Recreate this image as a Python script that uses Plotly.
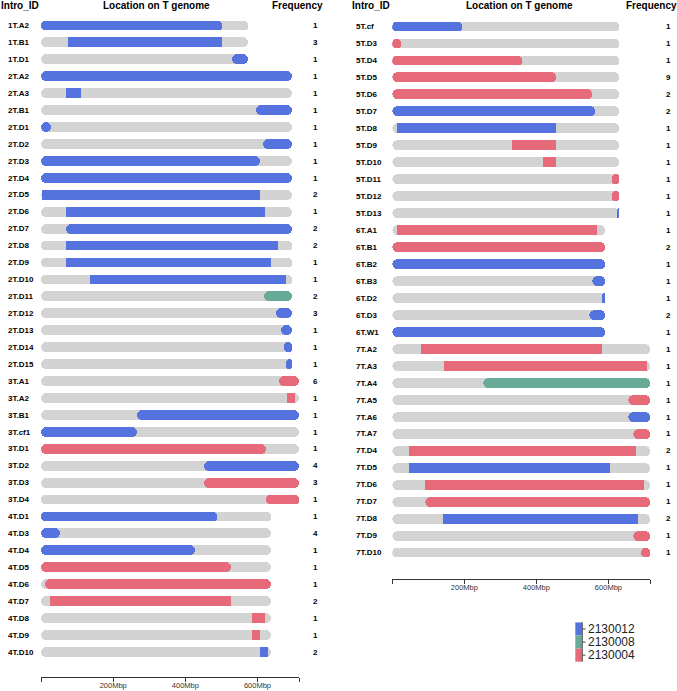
import plotly.graph_objects as go

W, H = 677, 691
FONT = "Liberation Sans, Arial, Helvetica, sans-serif"

# ---------------- data ----------------
chrom_len = {"1T": 574, "2T": 695, "3T": 716, "4T": 637, "5T": 631, "6T": 590, "7T": 716}

left_ids = ["1T.A2", "1T.B1", "1T.D1",
            "2T.A2", "2T.A3", "2T.B1", "2T.D1", "2T.D2", "2T.D3", "2T.D4", "2T.D5", "2T.D6",
            "2T.D7", "2T.D8", "2T.D9", "2T.D10", "2T.D11", "2T.D12", "2T.D13", "2T.D14", "2T.D15",
            "3T.A1", "3T.A2", "3T.B1", "3T.cf1", "3T.D1", "3T.D2", "3T.D3", "3T.D4",
            "4T.D1", "4T.D3", "4T.D4", "4T.D5", "4T.D6", "4T.D7", "4T.D8", "4T.D9", "4T.D10"]
left_start = [0, 76, 531,
              0, 69, 595, 0, 615, 0, 0, 4, 69,
              69, 69, 69, 135, 617, 653, 666, 673, 680,
              660, 682, 265, 0, 0, 451, 451, 625,
              0, 0, 0, 0, 10, 25, 585, 585, 606]
left_end = [502, 502, 574,
            695, 112, 695, 27, 695, 607, 695, 607, 622,
            695, 658, 637, 680, 695, 695, 695, 695, 695,
            716, 703, 716, 265, 625, 716, 716, 716,
            488, 53, 428, 528, 637, 528, 621, 606, 629]
left_donor = ["2130012", "2130012", "2130012",
              "2130012", "2130012", "2130012", "2130012", "2130012", "2130012", "2130012", "2130012", "2130012",
              "2130012", "2130012", "2130012", "2130012", "2130008", "2130012", "2130012", "2130012", "2130012",
              "2130004", "2130004", "2130012", "2130012", "2130004", "2130012", "2130004", "2130004",
              "2130012", "2130012", "2130012", "2130004", "2130004", "2130004", "2130004", "2130004", "2130012"]
left_freq = [1, 3, 1,
             1, 1, 1, 1, 1, 1, 1, 2, 1,
             2, 2, 1, 1, 2, 3, 1, 1, 1,
             6, 1, 1, 1, 1, 4, 3, 1,
             1, 4, 1, 1, 1, 2, 1, 1, 2]

right_ids = ["5T.cf", "5T.D3", "5T.D4", "5T.D5", "5T.D6", "5T.D7", "5T.D8", "5T.D9", "5T.D10",
             "5T.D11", "5T.D12", "5T.D13",
             "6T.A1", "6T.B1", "6T.B2", "6T.B3", "6T.D2", "6T.D3", "6T.W1",
             "7T.A2", "7T.A3", "7T.A4", "7T.A5", "7T.A6", "7T.A7",
             "7T.D4", "7T.D5", "7T.D6", "7T.D7", "7T.D8", "7T.D9", "7T.D10"]
right_start = [0, 0, 0, 0, 0, 0, 15, 333, 418, 612, 612, 626,
               15, 0, 0, 555, 583, 548, 0,
               80, 144, 253, 656, 656, 669,
               47, 47, 92, 92, 142, 669, 691]
right_end = [195, 24, 362, 455, 556, 563, 455, 455, 455, 631, 631, 631,
             570, 590, 590, 590, 590, 590, 590,
             584, 707, 716, 716, 716, 716,
             677, 605, 699, 716, 684, 716, 716]
right_donor = ["2130012", "2130004", "2130004", "2130004", "2130004", "2130012", "2130012", "2130004",
               "2130004", "2130004", "2130004", "2130012",
               "2130004", "2130004", "2130012", "2130012", "2130012", "2130012", "2130012",
               "2130004", "2130004", "2130008", "2130004", "2130012", "2130004",
               "2130004", "2130012", "2130004", "2130004", "2130012", "2130004", "2130004"]
right_freq = [1, 1, 1, 9, 2, 2, 1, 1, 1, 1, 1, 1,
              1, 2, 1, 1, 1, 2, 1,
              1, 1, 1, 1, 1, 1,
              2, 1, 1, 1, 2, 1, 1]

tick_vals = [0, 200, 400, 600, 716]
tick_text = ["", "200Mbp", "400Mbp", "600Mbp", ""]
legend_codes = ["2130012", "2130008", "2130004"]

# ---------------- styles ----------------
COLORS = {"2130012": "#5573DE", "2130008": "#67AA97", "2130004": "#E66A79"}
GRAY = "#D3D3D3"
XMAX = 716
BAR_W = 0.58
R = 5
AX = "#333333"


def px_x(p):
    return p / W


def px_y(p):
    return 1 - p / H


fig = go.Figure()


def bar(ys, base, x, colors, radius, xa, ya):
    return go.Bar(orientation="h", y=ys, base=base, x=x, width=BAR_W,
                  marker=dict(color=colors, cornerradius=radius, line=dict(width=0)),
                  xaxis=xa, yaxis=ya, showlegend=False, hoverinfo="skip")


def add_panel(ids, starts, ends, donors, xa, ya):
    n = len(ids)
    ys = list(range(n))
    L = [chrom_len[i[:2]] for i in ids]
    # gray chromosome pill (two overlapping halves, each rounded on its tip)
    fig.add_trace(bar(ys, [0.6 * l for l in L], [-0.6 * l for l in L], GRAY, R, xa, ya))
    fig.add_trace(bar(ys, [0.4 * l for l in L], [0.6 * l for l in L], GRAY, R, xa, ya))
    groups = {"lr": ([], [], [], []), "rr": ([], [], [], []), "sq": ([], [], [], [])}

    def put(g, k, b, x, c):
        groups[g][0].append(k)
        groups[g][1].append(b)
        groups[g][2].append(x)
        groups[g][3].append(c)

    for k in range(n):
        s, e, l, c = starts[k], ends[k], L[k], COLORS[donors[k]]
        at0 = s <= 0.5
        atL = e >= l - 0.5
        if at0 and atL:
            put("lr", k, 0.6 * l, -0.6 * l, c)
            put("rr", k, 0.4 * l, 0.6 * l, c)
        elif at0:
            put("lr", k, e, -e, c)
        elif atL:
            put("rr", k, s, l - s, c)
        else:
            put("sq", k, s, e - s, c)
    for g, rad in (("sq", 0), ("lr", R), ("rr", R)):
        yy, bb, xx, cc = groups[g]
        if yy:
            fig.add_trace(bar(yy, bb, xx, cc, rad, xa, ya))


add_panel(left_ids, left_start, left_end, left_donor, "x", "y")
add_panel(right_ids, right_start, right_end, right_donor, "x2", "y2")

annotations = []


def txt(x, y, text, size, yref="paper", xanchor="center", color="#000", bold=True):
    annotations.append(dict(x=x, y=y, xref="paper", yref=yref, text=("<b>%s</b>" % text) if bold else text,
                            showarrow=False, xanchor=xanchor, yanchor="middle", borderpad=0,
                            font=dict(family=FONT, size=size, color=color)))


for k, (i, f) in enumerate(zip(left_ids, left_freq)):
    txt(px_x(7), k, i, 8, yref="y", xanchor="left")
    txt(px_x(315), k, str(f), 8, yref="y")
for k, (i, f) in enumerate(zip(right_ids, right_freq)):
    txt(px_x(355), k, i, 8, yref="y2", xanchor="left")
    txt(px_x(668.3), k, str(f), 8, yref="y2")

# headers
txt(px_x(0), px_y(5.5), "Intro_ID", 10, xanchor="left")
txt(px_x(156.7), px_y(5.5), "Location on T genome", 10)
txt(px_x(297.5), px_y(5.5), "Frequency", 10)
txt(px_x(351), px_y(5.5), "Intro_ID", 10, xanchor="left")
txt(px_x(519.7), px_y(5.5), "Location on T genome", 10)
txt(px_x(651.8), px_y(5.5), "Frequency", 10)

# legend (color strip with axis-like ticks)
shapes = []
box_top = [622.4, 635.5, 648.6]
box_bot = [635.5, 648.6, 661.7]
for code, t, b in zip(legend_codes, box_top, box_bot):
    shapes.append(dict(type="rect", xref="paper", yref="paper", x0=px_x(575.3), x1=px_x(582.3),
                       y0=px_y(b), y1=px_y(t), fillcolor=COLORS[code], line=dict(width=0)))
    mid = (t + b) / 2
    shapes.append(dict(type="line", xref="paper", yref="paper", x0=px_x(582.3), x1=px_x(585.5),
                       y0=px_y(mid), y1=px_y(mid), line=dict(color="#444", width=1)))
    txt(px_x(586.5), px_y(mid), code, 12, xanchor="left", color="#222", bold=False)
shapes.append(dict(type="line", xref="paper", yref="paper", x0=px_x(582.3), x1=px_x(582.3),
                   y0=px_y(box_bot[-1]), y1=px_y(box_top[0]), line=dict(color="#555", width=1)))

xcommon = dict(range=[0, XMAX], showgrid=False, zeroline=False, showline=True, linecolor=AX, linewidth=1,
               ticks="outside", ticklen=4, tickcolor=AX, tickwidth=1, tickmode="array",
               tickvals=tick_vals, ticktext=tick_text, ticklabelstandoff=-3,
               tickfont=dict(family=FONT, size=7.5, color="#333"), fixedrange=True)

fig.update_layout(
    width=W, height=H, autosize=False,
    margin=dict(l=0, r=0, t=0, b=0),
    paper_bgcolor="white", plot_bgcolor="white",
    template="none",
    barmode="overlay", bargap=0,
    showlegend=False,
    xaxis=dict(domain=[px_x(41.1), px_x(299.3)], anchor="y", **xcommon),
    xaxis2=dict(domain=[px_x(392.3), px_x(650.2)], anchor="y2", **xcommon),
    yaxis=dict(domain=[px_y(676.7), px_y(17.2)], range=[(676.7 - 25.7) / 16.93, -0.5],
               visible=False, anchor="x", fixedrange=True),
    yaxis2=dict(domain=[px_y(579.0), px_y(18.2)], range=[(579.0 - 26.7) / 16.97, -0.5],
                visible=False, anchor="x2", fixedrange=True),
    annotations=annotations,
    shapes=shapes,
)

fig.write_html("out.html")
